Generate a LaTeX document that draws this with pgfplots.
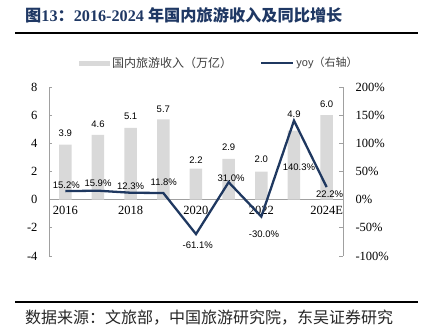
\documentclass[border=0pt]{standalone}
\usepackage{pgfplots}
\pgfplotsset{compat=1.18}
\usepackage{pgfplotstable}
\usepackage{fontspec}
\setmainfont{Liberation Serif}
\newfontfamily\arial{Liberation Sans}
\newfontfamily\cjk{Noto Sans CJK SC}
\definecolor{barc}{RGB}{217,217,217}
\definecolor{navy}{RGB}{31,56,96}
\definecolor{titlec}{RGB}{31,56,100}
\definecolor{axc}{RGB}{160,160,160}
\definecolor{legc}{RGB}{64,64,64}

\pgfplotstableread{
x y ly
0 3.9 11.5
1 4.6 11
2 5.1 11.5
3 5.7 10.5
4 2.2 9
5 2.9 11.5
6 2.0 11.8
7 4.9 16.7
8 6.0 11.2
}\bartab

\pgfplotstableread{
x y lx ly
0 15.2 1 6
1 15.9 0 7.3
2 12.3 0 7
3 11.8 0.5 11
4 -61.1 1.7 -11.6
5 31.0 2.5 4
6 -30.0 2.7 -17.4
7 140.3 5 -46.7
8 22.2 3 -7.5
}\yoytab

\begin{document}
\begin{tikzpicture}
\useasboundingbox (0bp,0bp) rectangle (421bp,334bp);
\node[anchor=west, text=titlec, inner sep=0] at (25bp,319bp)
  {\fontsize{16.2bp}{19bp}\selectfont\bfseries{\cjk 图}13{\cjk ：}2016-2024 {\cjk 年国内旅游收入及同比增长}};
\draw[line width=1.5bp] (15bp,301bp) -- (418bp,301bp);
\draw[line width=1.5bp] (15bp,32bp) -- (418bp,32bp);
\node[anchor=west, inner sep=0, text=black!85] at (25bp,16bp)
  {\cjk\fontsize{16bp}{19bp}\selectfont 数据来源：文旅部，中国旅游研究院，东吴证券研究};

\begin{axis}[
  at={(49bp,78bp)}, anchor=south west, scale only axis,
  width=294bp, height=169bp,
  xmin=-0.5, xmax=8.5, ymin=-4, ymax=8,
  axis x line*=middle, axis y line*=left,
  hide obscured x ticks=false, hide obscured y ticks=false,
  axis line style={axc, line width=0.7bp},
  xtick={0,2,4,6,8}, xticklabels={2016,2018,2020,2022,2024E},
  major x tick style={draw=none},
  extra x ticks={-0.5,0.5,...,8.5}, extra x tick labels={},
  extra x tick style={xtick align=outside, major tick length=3.5bp, tick style={axc, line width=0.7bp}},
  ytick={-4,-2,...,8}, ytick align=inside,
  major tick length=3.5bp,
  y tick style={axc, line width=0.7bp},
  tick label style={font=\fontsize{12.5bp}{14bp}\selectfont},
  xticklabel style={yshift=-3bp},
  yticklabel style={xshift=-8bp},
  /pgf/number format/assume math mode=true,
  clip=false,
  legend columns=2,
  legend style={at={(0.102,1.142)}, anchor=west, draw=none, fill=none,
    text=legc, inner sep=0bp,
    /tikz/every even column/.append style={column sep=26bp}},
]
\addplot[ybar, bar width=12.5bp, fill=barc, draw=none,
  legend image code/.code={\fill[barc] (0bp,-2.5bp) rectangle (31bp,2.5bp);},
  nodes near coords={\pgfmathprintnumber[fixed,fixed zerofill,precision=1]{\pgfplotspointmeta}},
  visualization depends on={\thisrow{ly}\as\ly},
  every node near coord/.append style={anchor=center, yshift=\ly bp, text=black,
    font=\arial\fontsize{9.5bp}{11bp}\selectfont}]
  table[x=x,y=y]{\bartab};
\addlegendentry{\cjk\fontsize{12bp}{14bp}\selectfont 国内旅游收入（万亿）}
\addlegendimage{legend image code/.code={\draw[navy, line width=2.3bp] (0bp,0bp) -- (32bp,0bp);}}
\addlegendentry{\fontsize{11bp}{14bp}\selectfont{\arial yoy}{\cjk（右轴）}}
\end{axis}

\begin{axis}[
  at={(49bp,78bp)}, anchor=south west, scale only axis,
  width=294bp, height=169bp,
  xmin=-0.5, xmax=8.5, ymin=-100, ymax=200,
  axis y line*=right, axis x line=none,
  axis line style={axc, line width=0.7bp},
  ytick={-100,-50,...,200}, ytick align=inside,
  major tick length=3.5bp,
  y tick style={axc, line width=0.7bp},
  yticklabel={\pgfmathprintnumber{\tick}\%},
  tick label style={font=\fontsize{12.5bp}{14bp}\selectfont},
  yticklabel style={xshift=9bp},
  /pgf/number format/assume math mode=true,
  clip=false,
]
\addplot[navy, line width=2.3bp, mark=none,
  nodes near coords={\pgfmathprintnumber[fixed,fixed zerofill,precision=1]{\pgfplotspointmeta}\%},
  visualization depends on={\thisrow{lx}\as\lx},
  visualization depends on={\thisrow{ly}\as\ly},
  every node near coord/.append style={anchor=center, xshift=\lx bp, yshift=\ly bp, text=black,
    font=\arial\fontsize{9.5bp}{11bp}\selectfont}]
  table[x=x,y=y]{\yoytab};
\end{axis}
\end{tikzpicture}
\end{document}
